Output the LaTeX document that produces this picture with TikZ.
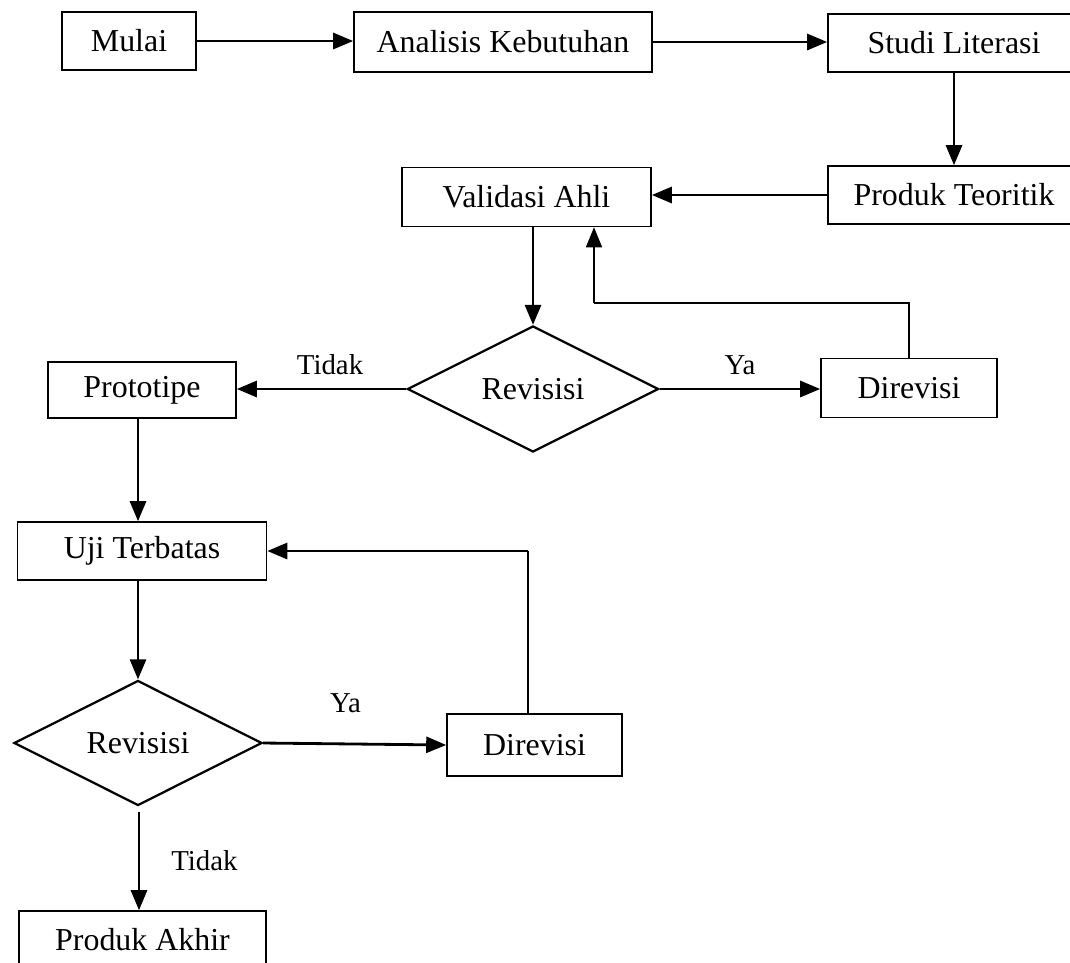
\documentclass[tikz,border=0pt]{standalone}
\usepackage{fontspec}
\setmainfont{Liberation Serif}
\usetikzlibrary{shapes.geometric,arrows.meta}
\begin{document}
\begin{tikzpicture}[x=0.025cm,y=-0.025cm,
  box/.style={draw, line width=1.1pt, rectangle, inner sep=0pt, font=\fontsize{22.7}{27}\selectfont},
  dec/.style={draw, line width=1.6pt, diamond, inner sep=0pt, font=\fontsize{22.7}{27}\selectfont},
  arr/.style={line width=2pt, -{Triangle[length=0.5cm,width=0.4cm]}},
  thinl/.style={line width=1.1pt},
  lbl/.style={font=\fontsize{20.5}{24}\selectfont, inner sep=0pt}]
\clip (0,0) rectangle (1070,962);
\fill[white] (0,0) rectangle (1070,962);
% nodes
\node[box, minimum width=3.35cm, minimum height=1.45cm] (mulai) at (129,41) {Mulai};
\node[box, minimum width=7.45cm, minimum height=1.5cm] (analisis) at (503,42) {Analisis Kebutuhan};
\node[box, minimum width=6.3cm, minimum height=1.45cm] (studi) at (954,43) {Studi Literasi};
\node[box, minimum width=6.3cm, minimum height=1.45cm] (teoritik) at (954,195) {Produk Teoritik};
\node[box, minimum width=6.225cm, minimum height=1.475cm] (validasi) at (526.5,197) {Validasi Ahli};
\node[dec, minimum width=6.275cm, minimum height=3.15cm] (rev1) at (533,389) {Revisisi};
\node[box, minimum width=4.7cm, minimum height=1.4cm] (proto) at (142,390) {Prototipe};
\node[box, minimum width=4.4cm, minimum height=1.475cm] (dir1) at (909,388) {Direvisi};
\node[box, minimum width=6.225cm, minimum height=1.45cm] (uji) at (142,551) {Uji Terbatas};
\node[dec, minimum width=6.2cm, minimum height=3.125cm] (rev2) at (138,743) {Revisisi};
\node[box, minimum width=4.375cm, minimum height=1.55cm] (dir2) at (534.5,745) {Direvisi};
\node[box, minimum width=6.175cm, minimum height=1.45cm] (akhir) at (142.5,940) {Produk Akhir};
% coordinates for loops
\coordinate (lp1) at (594,303);
\coordinate (lp2) at (528,551);
\coordinate (ak) at (139,812);
% connectors
\draw[arr] (mulai.east) -- (analisis.west |- mulai.east);
\draw[arr] (analisis.east) -- (studi.west |- analisis.east);
\draw[arr] (studi.south) -- (teoritik.north);
\draw[arr] (teoritik.west) -- (validasi.east |- teoritik.west);
\draw[arr] (rev1.north |- validasi.south) -- (rev1.north);
\draw[thinl] (dir1.north) |- (lp1);
\draw[arr, line width=1.2pt] (lp1) -- (lp1 |- validasi.south);
\draw[arr] (rev1.west) -- (rev1.west -| proto.east) node[lbl, pos=0.45, above=9pt] {Tidak};
\draw[arr] (rev1.east) -- (rev1.east -| dir1.west) node[lbl, midway, above=9pt] {Ya};
\draw[arr] (proto.south -| rev2.north) -- (uji.north -| rev2.north);
\draw[arr] (uji.south -| rev2.north) -- (rev2.north);
\draw[arr] (rev2.east) -- (dir2.west) node[lbl, pos=0.45, above=21pt] {Ya};
\draw[thinl] (lp2 |- dir2.north) -- (lp2);
\draw[arr] (lp2) -- (uji.east);
\draw[arr] (ak) -- (ak |- akhir.north) node[lbl, pos=0.5, right=22pt] {Tidak};
\end{tikzpicture}
\end{document}
